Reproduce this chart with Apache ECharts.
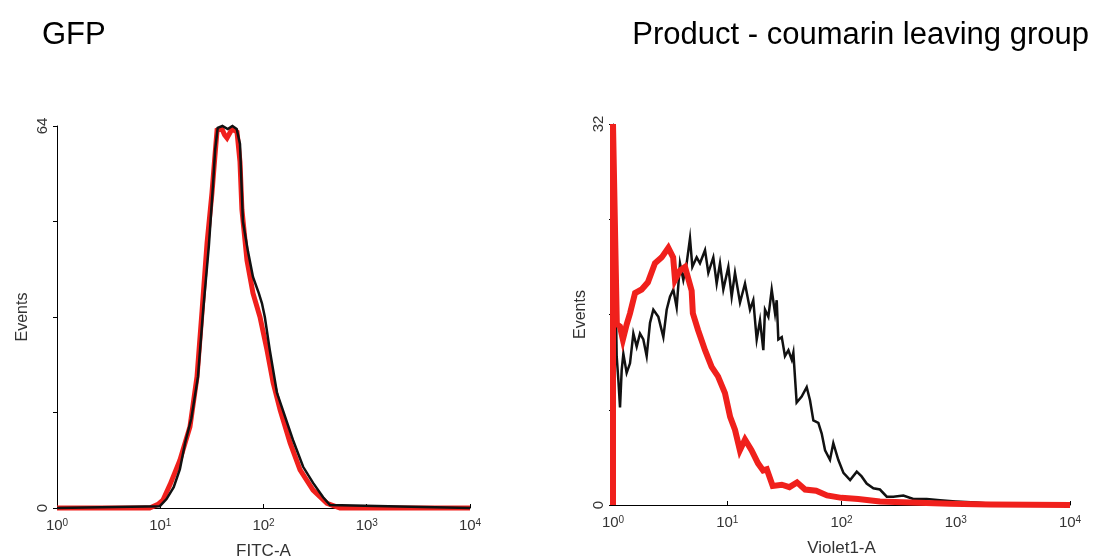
<!DOCTYPE html>
<html>
<head>
<meta charset="utf-8">
<script src="https://cdn.jsdelivr.net/npm/echarts@6/dist/echarts.min.js"></script>
<style>
  html, body { margin: 0; padding: 0; background: #fff; }
  #chart { width: 1101px; height: 559px; }
</style>
</head>
<body>
<div id="chart"></div>
<script>
// GFP panel (FITC-A), x = fluorescence, y = events
const gfpRedX = [1, 7.9, 9.5, 10.6, 12.5, 15.5, 19.4, 22.7, 25.4, 28.4, 31.7, 33.5, 35.5, 39.6, 42, 44.3, 47, 49.5, 55.4, 59.2, 61.8, 69.2, 79.1, 92.5, 108, 124, 145, 181, 226, 302, 412, 550, 10000];
const gfpRedY = [0, 0, 0.6, 1.3, 4, 8, 13.6, 22, 33, 44.4, 52.8, 58, 63.3, 63.5, 62.5, 62, 62.8, 63.5, 63, 58, 50, 41.5, 36, 32, 26.5, 21, 16.4, 10.9, 6.4, 3, 0.8, 0, 0];
const gfpBlackX = [1, 9.9, 11.5, 13.5, 15.5, 17.4, 20, 23.2, 26, 29.6, 32.4, 34, 36, 40, 45, 50, 55, 59.2, 63.2, 70.7, 79.1, 90, 96.6, 103, 115, 135, 154, 193, 242, 302, 378, 440, 10000];
const gfpBlackY = [0, 0.3, 1.5, 3.5, 6.5, 10.9, 15, 22, 33, 44, 54, 60, 63.7, 64, 63.5, 64, 63.5, 61, 48, 43, 38.7, 36, 34.3, 32, 26.5, 19.3, 16.4, 11.4, 6.9, 4.2, 1.8, 0.5, 0];

// coumarin panel (Violet1-A)
const violetRedX = [1, 1, 1.03, 1.08, 1.15, 1.22, 1.32, 1.41, 1.56, 1.78, 2.02, 2.33, 2.67, 3.05, 3.36, 3.49, 3.86, 4.27, 4.88, 5.0, 5.55, 6.39, 7.3, 8.3, 9.55, 10.6, 11.7, 12.9, 14.3, 16.3, 18.6, 20.6, 22.2, 25, 30, 35, 40.8, 48, 60, 74.7, 100, 140, 217, 400, 890, 2000, 10000];
const violetRedY = [0, 32, 32, 15.2, 15, 13.9, 15.2, 16.1, 17.8, 18.1, 18.7, 20.3, 20.8, 21.6, 20.8, 18.9, 19.7, 20, 18, 16.1, 14.7, 13, 11.6, 10.8, 9.4, 7.4, 6.3, 4.6, 5.5, 4.6, 3.5, 2.9, 3.0, 1.6, 1.7, 1.5, 1.9, 1.3, 1.2, 0.8, 0.6, 0.5, 0.3, 0.2, 0.1, 0.05, 0];
const violetBlackX = [1, 1, 1.02, 1.077, 1.114, 1.152, 1.191, 1.232, 1.317, 1.409, 1.507, 1.612, 1.723, 1.843, 1.971, 2.108, 2.254, 2.494, 2.758, 2.95, 3.154, 3.373, 3.607, 3.858, 4.126, 4.412, 4.72, 4.95, 5.4, 5.77, 6.39, 6.83, 7.55, 8.08, 8.64, 9.24, 10.22, 10.93, 11.69, 12.93, 14.3, 15.82, 16.9, 18.1, 19.35, 20.69, 21.4, 22.9, 24.5, 26.2, 27.1, 28, 30, 32, 34.3, 36.7, 37.9, 40.5, 44.8, 49.6, 53, 56.7, 62.7, 67.1, 71.8, 79.3, 84.8, 93.7, 104, 119, 136, 150, 166, 190, 217, 249, 284, 348, 425, 557, 728, 1000, 1500, 2500, 10000];
const violetBlackY = [0, 32, 32, 12.5, 10.5, 8.2, 11.3, 12.7, 11.1, 11.9, 14.4, 13.3, 14.4, 13.9, 12.5, 15.3, 16.4, 15.8, 14.1, 16.4, 17.5, 18.1, 16.6, 20.3, 18.9, 20.3, 22.4, 20, 20.8, 20.3, 21.4, 19.5, 20.8, 18.6, 20.3, 18.1, 20, 17.5, 19.5, 17, 18.6, 16.4, 17.2, 13.9, 15.5, 13, 16.4, 15.8, 18.1, 16.1, 17.2, 13.9, 14.1, 12.5, 13, 12.2, 12.8, 8.6, 9.1, 9.9, 8.8, 7.1, 6.9, 6, 4.6, 3.8, 5.2, 3.8, 2.7, 2.1, 2.8, 2.4, 1.8, 1.4, 1.3, 0.7, 0.7, 0.8, 0.5, 0.5, 0.4, 0.3, 0.2, 0.05, 0];

const panelTitles = ['GFP', 'Product - coumarin leaving group'];
const xNames = ['FITC-A', 'Violet1-A'];
const yMaxes = [64, 32];

const zip = (xs, ys) => xs.map((x, i) => [x, ys[i]]);

const font = 'Liberation Sans, Arial, sans-serif';

function xAxisFor(idx) {
  return {
    gridIndex: idx,
    type: 'log',
    logBase: 10,
    min: 1,
    max: 10000,
    name: xNames[idx],
    nameLocation: 'middle',
    nameGap: 35,
    nameTextStyle: { fontFamily: font, fontSize: 17, color: '#333' },
    axisLine: { lineStyle: { color: '#000', width: 1 } },
    axisTick: { inside: true, length: 4, lineStyle: { color: '#000' } },
    splitLine: { show: false },
    axisLabel: {
      margin: 10,
      formatter: v => '{b|10}{s|' + Math.round(Math.log10(v)) + '}',
      rich: {
        b: { fontFamily: font, fontSize: 15, color: '#333', lineHeight: 16 },
        s: { fontFamily: font, fontSize: 10, color: '#333', lineHeight: 10, verticalAlign: 'top' }
      }
    }
  };
}

function yAxisFor(idx) {
  const max = yMaxes[idx];
  return {
    gridIndex: idx,
    type: 'value',
    min: 0,
    max: max,
    interval: max / 4,
    name: 'Events',
    nameLocation: 'middle',
    nameGap: idx === 0 ? 26 : 24,
    nameTextStyle: { fontFamily: font, fontSize: 16, color: '#333' },
    axisLine: { show: true, lineStyle: { color: '#000', width: 1 } },
    axisTick: { show: true, length: 4, lineStyle: { color: '#000' } },
    splitLine: { show: false },
    axisLabel: {
      rotate: 90,
      margin: 7,
      fontFamily: font,
      fontSize: 15,
      color: '#333',
      formatter: v => (v === 0 || v === max ? String(v) : '')
    }
  };
}

function histLine(idx, data, color, width, z) {
  return {
    type: 'line',
    xAxisIndex: idx,
    yAxisIndex: idx,
    data: data,
    showSymbol: false,
    clip: false,
    z: z,
    lineStyle: { color: color, width: width, join: 'miter' },
    animation: false
  };
}

const chart = echarts.init(document.getElementById('chart'));

chart.setOption({
  backgroundColor: '#fff',
  animation: false,
  title: [
    { text: panelTitles[0], left: 37, top: 15, textStyle: { fontFamily: font, fontSize: 31, fontWeight: 'normal', color: '#000' } },
    { text: panelTitles[1], right: 7, top: 15, textStyle: { fontFamily: font, fontSize: 31, fontWeight: 'normal', color: '#000' } }
  ],
  grid: [
    { left: 57, top: 126, width: 413, height: 382, outerBoundsMode: 'none' },
    { left: 613, top: 124, width: 457, height: 381, outerBoundsMode: 'none' }
  ],
  xAxis: [xAxisFor(0), xAxisFor(1)],
  yAxis: [yAxisFor(0), yAxisFor(1)],
  series: [
    histLine(0, zip(gfpRedX, gfpRedY), '#f0201c', 5, 2),
    histLine(0, zip(gfpBlackX, gfpBlackY), '#111', 2.5, 3),
    histLine(1, zip(violetBlackX, violetBlackY), '#111', 2.5, 2),
    histLine(1, zip(violetRedX, violetRedY), '#f0201c', 6, 3)
  ]
});
</script>
</body>
</html>
